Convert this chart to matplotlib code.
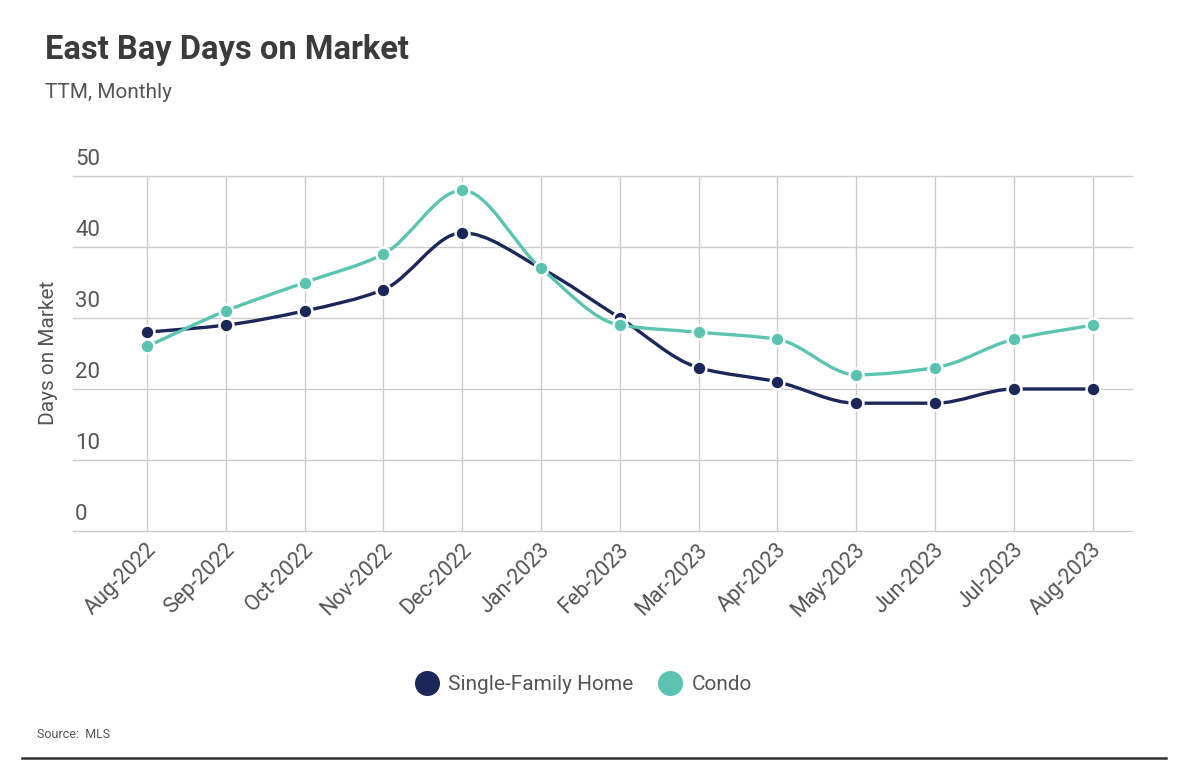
import numpy as np
import matplotlib
matplotlib.use('Agg')
import matplotlib.pyplot as plt
from matplotlib.path import Path
from matplotlib.patches import PathPatch
from matplotlib.lines import Line2D
from matplotlib.transforms import ScaledTranslation

months = ['Aug-2022', 'Sep-2022', 'Oct-2022', 'Nov-2022', 'Dec-2022', 'Jan-2023',
          'Feb-2023', 'Mar-2023', 'Apr-2023', 'May-2023', 'Jun-2023', 'Jul-2023', 'Aug-2023']
single_family = [28, 29, 31, 34, 42, 37, 30, 23, 21, 18, 18, 20, 20]
condo = [26, 31, 35, 39, 48, 37, 29, 28, 27, 22, 23, 27, 29]
y_ticks = [0, 10, 20, 30, 40, 50]

NAVY = '#1b2659'
TEAL = '#5bc4b0'
TEXT = '#555555'
GRID = '#cccccc'

plt.rcParams['font.family'] = ['Roboto', 'DejaVu Sans']


def monotone_path(x, y):
    """Bezier path through the points with monotone (Fritsch-Carlson) tangents."""
    x = np.asarray(x, float)
    y = np.asarray(y, float)
    h = np.diff(x)
    d = np.diff(y) / h
    m = np.zeros_like(y)
    m[0], m[-1] = d[0], d[-1]
    for i in range(1, len(y) - 1):
        if d[i - 1] * d[i] <= 0:
            m[i] = 0
        else:
            m[i] = 2 / (1 / d[i - 1] + 1 / d[i])
    verts = [(x[0], y[0])]
    codes = [Path.MOVETO]
    for i in range(len(x) - 1):
        verts += [(x[i] + h[i] / 3, y[i] + m[i] * h[i] / 3),
                  (x[i + 1] - h[i] / 3, y[i + 1] - m[i + 1] * h[i] / 3),
                  (x[i + 1], y[i + 1])]
        codes += [Path.CURVE4] * 3
    return Path(verts, codes)


fig = plt.figure(figsize=(11.92, 7.82), dpi=100)
ax = fig.add_axes([73 / 1192, 1 - 531 / 782, (1132 - 73) / 1192, 355 / 782])

xs = np.arange(len(months))
for values, color, z in ((single_family, NAVY, 3), (condo, TEAL, 4)):
    ax.add_patch(PathPatch(monotone_path(xs, values), fill=False, edgecolor=color,
                           lw=2.4, zorder=z, clip_on=False, capstyle='round'))
    ax.plot(xs, values, ls='none', marker='o', ms=10, mfc=color, mec='white',
            mew=1.8, zorder=z + 0.5, clip_on=False)

ax.set_xlim(-0.94, 12.5)
ax.set_ylim(0, 50)
ax.set_yticks(y_ticks)
ax.set_yticklabels([])
ax.tick_params(axis='y', length=0)
ax.set_xticks(xs)
ax.set_xticklabels(months, rotation=45, ha='right', va='center',
                   rotation_mode='anchor', fontsize=15.5, color=TEXT)
ax.tick_params(axis='x', length=0, pad=10)
shift = ScaledTranslation(6 / 100, -2 / 100, fig.dpi_scale_trans)
for lab in ax.get_xticklabels():
    lab.set_transform(lab.get_transform() + shift)
ax.grid(True, color=GRID, lw=1)
for gl in ax.get_xgridlines() + ax.get_ygridlines():
    gl.set_clip_on(False)
ax.set_axisbelow(True)
for s in ax.spines.values():
    s.set_visible(False)

for t in y_ticks:
    ax.text(0.002, t + 0.8, str(t), transform=ax.get_yaxis_transform(),
            ha='left', va='bottom', fontsize=16, color=TEXT)

fig.text(48 / 1192, 1 - 353 / 782, 'Days on Market', rotation=90, ha='center',
         va='center', fontsize=15, color=TEXT)

fig.text(45 / 1192, 1 - 50 / 782, 'East Bay Days on Market', ha='left', va='center',
         fontsize=23.5, fontweight='bold', color='#3b3b3b')
fig.text(45 / 1192, 1 - 93 / 782, 'TTM, Monthly', ha='left', va='center',
         fontsize=15, color=TEXT)

handles = [Line2D([], [], ls='none', marker='o', ms=17, mfc=NAVY, mec=NAVY),
           Line2D([], [], ls='none', marker='o', ms=17, mfc=TEAL, mec=TEAL)]
leg = fig.legend(handles, ['Single-Family Home', 'Condo'], loc='center',
                 bbox_to_anchor=(582 / 1192, 1 - 685 / 782), ncol=2, frameon=False,
                 fontsize=15, handletextpad=0.3, columnspacing=1.1, handlelength=1.4)
for t in leg.get_texts():
    t.set_color(TEXT)

fig.text(37 / 1192, 1 - 735 / 782, 'Source:  MLS', ha='left', va='center',
         fontsize=9, color=TEXT)
fig.add_artist(Line2D([22 / 1192, 1166 / 1192], [1 - 758 / 782] * 2, color='#333333',
                      lw=1.8))

fig.savefig('out.png', dpi=100, facecolor='white')
